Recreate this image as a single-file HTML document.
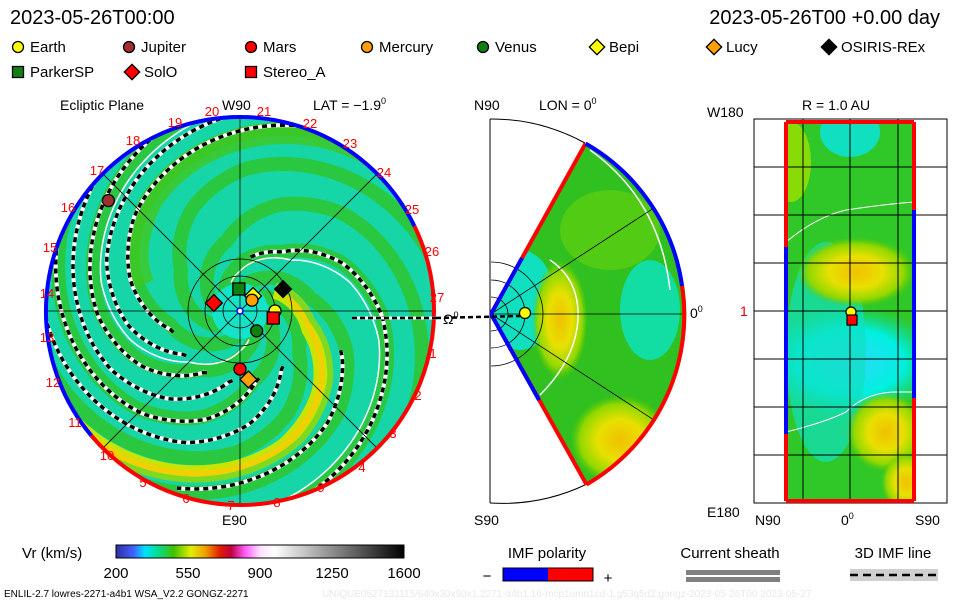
<!DOCTYPE html>
<html><head><meta charset="utf-8"><style>
html,body{margin:0;padding:0;background:#fff;}
svg{display:block;font-family:"Liberation Sans",sans-serif;}
</style></head><body>
<svg id="c" width="960" height="600" viewBox="0 0 960 600" xmlns="http://www.w3.org/2000/svg">
<defs>
 <clipPath id="circ"><circle cx="240" cy="311" r="194"/></clipPath>
 <clipPath id="wedge"><path d="M491,314 L585.5,143.5 A195,195 0 0 1 586.5,484.5 Z"/></clipPath>
 <radialGradient id="blobY" cx="0.5" cy="0.5" r="0.5"><stop offset="0" stop-color="#f0c000"/><stop offset="0.45" stop-color="#e8e000"/><stop offset="0.8" stop-color="#90d800"/><stop offset="1" stop-color="#60c800" stop-opacity="0"/></radialGradient>
 <radialGradient id="blobC" cx="0.5" cy="0.5" r="0.5"><stop offset="0" stop-color="#30d8f8"/><stop offset="0.6" stop-color="#00f0e0"/><stop offset="1" stop-color="#00e0c0" stop-opacity="0"/></radialGradient>
 <linearGradient id="cbar" x1="0" x2="1">
  <stop offset="0" stop-color="#3030a0"/><stop offset="0.06" stop-color="#4060ff"/><stop offset="0.1" stop-color="#00e0ff"/><stop offset="0.14" stop-color="#00e0a0"/><stop offset="0.2" stop-color="#40c000"/><stop offset="0.26" stop-color="#e0f000"/><stop offset="0.31" stop-color="#f0a000"/><stop offset="0.36" stop-color="#e02000"/><stop offset="0.4" stop-color="#c00040"/><stop offset="0.45" stop-color="#ff60ff"/><stop offset="0.5" stop-color="#ffe0ff"/><stop offset="0.55" stop-color="#ffffff"/><stop offset="1" stop-color="#000000"/>
 </linearGradient>
</defs>
<text x="10" y="24" font-size="20">2023-05-26T00:00</text>
<text x="940" y="24" font-size="20" text-anchor="end">2023-05-26T00 +0.00 day</text>
<g id="legend" font-size="15"></g>

<g>
 <text x="60" y="110" font-size="14">Ecliptic Plane</text>
 <text x="222" y="110" font-size="14">W90</text>
 <text x="313" y="110" font-size="14">LAT = −1.9<tspan dy="-6" font-size="9">0</tspan></text>
 <g clip-path="url(#circ)" id="eclipticField"></g>
 <g id="eclipticOver"></g>
 <text x="222" y="525" font-size="14">E90</text>
</g>

<g>
 <text x="474" y="110" font-size="14">N90</text>
 <text x="539" y="110" font-size="14">LON = 0<tspan dy="-6" font-size="9">0</tspan></text>
 <path d="M490,119 L490,503" stroke="#000" stroke-width="1" fill="none"/>
 <path d="M490,119 A195,195 0 0 1 585,143" stroke="#000" fill="none"/>
 <path d="M587,484 A195,195 0 0 1 490,503" stroke="#000" fill="none"/>
 <g clip-path="url(#wedge)">
  <rect x="480" y="120" width="220" height="380" fill="#30c020"/>
  <ellipse cx="610" cy="230" rx="50" ry="40" fill="#60d010" opacity="0.7"/>
  <ellipse cx="650" cy="310" rx="30" ry="50" fill="#10e0b0" opacity="0.9"/>
  <ellipse cx="620" cy="440" rx="50" ry="45" fill="url(#blobY)"/>
  <ellipse cx="520" cy="300" rx="35" ry="50" fill="#10e0c0"/>
  <ellipse cx="560" cy="320" rx="28" ry="60" fill="url(#blobY)"/>
  <path d="M550,260 Q580,280 578,320 Q575,360 540,395" stroke="#fff" stroke-width="1.5" fill="none"/>
  <path d="M590,150 Q660,200 670,290" stroke="#fff" stroke-width="1.5" fill="none"/>
  <path d="M491,314 L700,178 M491,314 L700,450 M491,314 L700,314" stroke="#000" stroke-width="0.8"/>
 </g>
 <g fill="none" stroke="#000" stroke-width="0.8">
  <path d="M491,297 A17,17 0 0 1 491,331"/><path d="M491,280 A34,34 0 0 1 491,348"/><path d="M491,262 A52,52 0 0 1 491,366"/>
 </g>
 <path d="M491,314 L585.5,143.5" stroke="#f00" stroke-width="4"/>
 <path d="M491,314 L522,258" stroke="#00f" stroke-width="4"/>
 <path d="M491,314 L586.5,484.5" stroke="#f00" stroke-width="4"/>
 <path d="M491,314 L539,400" stroke="#00f" stroke-width="4"/>
 <path d="M585.5,143.5 A195,195 0 0 1 682,286" stroke="#00f" stroke-width="4" fill="none"/>
 <path d="M682,286 A195,195 0 0 1 586.5,484.5" stroke="#f00" stroke-width="4" fill="none"/>
 <path d="M436,318 L520,316" stroke="#000" stroke-width="2.5" stroke-dasharray="5,3"/>
 <circle cx="525" cy="313" r="5.5" fill="#ff0" stroke="#000" stroke-width="1.2"/>
 <text x="690" y="318" font-size="14">0<tspan dy="-6" font-size="9">0</tspan></text>
 <text x="474" y="525" font-size="14">S90</text>
</g>

<g>
 <text x="802" y="110" font-size="14">R = 1.0 AU</text>
 <text x="707" y="117" font-size="14">W180</text>
 <text x="707" y="517" font-size="14">E180</text>
 <text x="755" y="525" font-size="14">N90</text>
 <text x="841" y="525" font-size="14">0<tspan dy="-6" font-size="9">0</tspan></text>
 <text x="915" y="525" font-size="14">S90</text>
 <text x="740" y="316" font-size="14" fill="#e00000">1</text>
 <rect x="754" y="119" width="193" height="384" fill="#fff" stroke="#000" stroke-width="1"/>
 <svg x="786" y="122" width="128" height="379" overflow="hidden">
  <rect width="128" height="379" fill="#30c828"/>
  <ellipse cx="64" cy="10" rx="30" ry="25" fill="#10e0c0"/>
  <ellipse cx="5" cy="40" rx="20" ry="40" fill="#a0e000" opacity="0.8"/>
  <ellipse cx="64" cy="240" rx="90" ry="55" fill="url(#blobC)"/>
  <ellipse cx="40" cy="230" rx="40" ry="110" fill="#10e0c0" opacity="0.7"/>
  <ellipse cx="70" cy="150" rx="60" ry="35" fill="url(#blobY)"/>
  <ellipse cx="100" cy="310" rx="40" ry="40" fill="url(#blobY)"/>
  <ellipse cx="120" cy="360" rx="25" ry="30" fill="url(#blobY)"/>
  <path d="M0,120 Q30,95 60,88 Q100,82 128,80" stroke="#fff" stroke-width="1" fill="none"/>
  <path d="M0,310 Q40,300 60,290 Q80,270 110,270 L128,270" stroke="#fff" stroke-width="1" fill="none"/>
 </svg>
 <g id="gridR" stroke="#000" stroke-width="1"></g>
 <path d="M786,122 L914,122 M786,501 L914,501" stroke="#f00" stroke-width="4"/>
 <path d="M786,122 L786,247 M786,434 L786,501 M914,122 L914,210 M914,398 L914,501" stroke="#f00" stroke-width="4"/>
 <path d="M786,247 L786,434 M914,210 L914,398" stroke="#00f" stroke-width="4"/>
 <circle cx="851" cy="312" r="5" fill="#ff0" stroke="#000" stroke-width="1.2"/>
 <rect x="847" y="315" width="10" height="10" fill="#f00" stroke="#000" stroke-width="1.2"/>
</g>

<g>
 <text x="22" y="558" font-size="15">Vr (km/s)</text>
 <rect x="116" y="545" width="288" height="13" fill="url(#cbar)" stroke="#000" stroke-width="1"/>
 <g id="cbTicks" font-size="15" text-anchor="middle"></g>
</g>
<g>
 <text x="547" y="558" font-size="15" text-anchor="middle">IMF polarity</text>
 <rect x="503" y="568" width="45" height="13" fill="#00f"/><rect x="548" y="568" width="45" height="13" fill="#f00"/>
 <rect x="503" y="568" width="90" height="13" fill="none" stroke="#000"/>
 <text x="487" y="581" font-size="15" text-anchor="middle">−</text><text x="608" y="583" font-size="15" text-anchor="middle">+</text>
</g>
<g>
 <text x="730" y="558" font-size="15" text-anchor="middle">Current sheath</text>
 <rect x="686" y="570" width="94" height="5" fill="#808080"/><rect x="686" y="577" width="94" height="5" fill="#808080"/>
</g>
<g>
 <text x="893" y="558" font-size="15" text-anchor="middle">3D IMF line</text>
 <rect x="850" y="569" width="88" height="12" fill="#d0d0d0"/>
 <path d="M850,575 L938,575" stroke="#000" stroke-width="2.5" stroke-dasharray="8,5"/>
</g>
<text x="4" y="597" font-size="10">ENLIL-2.7 lowres-2271-a4b1 WSA_V2.2 GONGZ-2271</text>
<text x="322" y="597" font-size="10" fill="#e8e8e8">UNIQUE0527131115/640x30x90x1.2271-a4b1.16-mcp1umn1cd-1.g53q5d2.gongz-2023-05-26T00   2023-05-27</text>
</svg>
<script>
const NS="http://www.w3.org/2000/svg";
// ---- data ----
const cbTickLabels=["200","550","900","1250","1600"];
const cbTickValues=[200,550,900,1250,1600];
const legendNames=["Earth","Jupiter","Mars","Mercury","Venus","Bepi","Lucy","OSIRIS-REx","ParkerSP","SolO","Stereo_A"];
const legendShapes=["circle","circle","circle","circle","circle","diamond","diamond","diamond","square","diamond","square"];
const legendColors=["#ffff00","#a03030","#ff0000","#ffa000","#108010","#ffff00","#ffa000","#000000","#108010","#ff0000","#ff0000"];
const legendX=[18,129,251,367,483,597,714,829,18,132,251];
const legendRow=[0,0,0,0,0,0,0,0,1,1,1];
const bodyNames=["Jupiter","Earth","Stereo_A","Venus","Mars","Lucy","SolO","ParkerSP","Bepi","Mercury","OSIRIS-REx"];
const bodyR=[5.12,1.0,0.97,0.74,1.66,1.97,0.78,0.63,0.57,0.46,1.38];
const bodyAng=[-140,0,12,50,90,83,-163,-93,-49,-42,-27];
const rimLabels=["19","20","21","22","23","24","25","26","27","1","2","3","4","9","8","7","6","5","10","11","12","13","14","15","16","17","18"];
const rimLabelX=[175,212,264,310,350,384,412,432,437,433,418,393,362,321,277,231,186,143,107,75,53,47,47,50,68,97,133];
const rimLabelY=[127,116,116,128,148,177,214,256,302,358,400,438,472,492,507,510,503,487,460,427,387,342,298,252,212,175,145];
const spiralR=[0,40,72,113,142,164,194,260];
const spiralTh=[-100,-30,15,45,72,100,137,230];
const imfOffsets=[40,62,84,106,128,150,-70,-20];
const imfRMin=[70,70,70,70,70,70,55,80];
const imfRMax=[200,230,240,240,240,240,200,200];
const imfAFrom=[30,40,60,80,85,90,250,20];
const imfATo=[300,300,300,300,300,300,120,110];

// ---- scales ----
const cx=240,cy=311,R=194;
const auPix=35;
function auToPx(au){ return au<=2.1? au*auPix : 2.1*auPix+(au-2.1)*((R-2.1*auPix)/(5.8-2.1)); }
function cbX(v){ return 116+(v-200)/(1600-200)*288; }
function thetaOf(r){for(let i=1;i<spiralR.length;i++){if(r<=spiralR[i]){const t=(r-spiralR[i-1])/(spiralR[i]-spiralR[i-1]);return spiralTh[i-1]+t*(spiralTh[i]-spiralTh[i-1]);}}return spiralTh[spiralTh.length-1];}

function el(tag,attrs,parent){const e=document.createElementNS(NS,tag);for(const k in attrs)e.setAttribute(k,attrs[k]);parent.appendChild(e);return e;}
function marker(shape,x,y,s,color,parent){
 if(shape==="circle") return el("circle",{cx:x,cy:y,r:s,fill:color,stroke:"#000","stroke-width":1.3},parent);
 if(shape==="square") return el("rect",{x:x-s,y:y-s,width:2*s,height:2*s,fill:color,stroke:"#000","stroke-width":1.3},parent);
 return el("path",{d:`M${x},${y-s*1.4} L${x+s*1.4},${y} L${x},${y+s*1.4} L${x-s*1.4},${y} Z`,fill:color,stroke:"#000","stroke-width":1.3},parent);
}
function spiralPath(off,r0,r1,aMin,aMax){
 let d="",pen=false;
 for(let r=r0;r<=r1;r+=2){const deg=thetaOf(r)+off;
  const nd=((deg%360)+360)%360;
  const ok=(aMin===undefined)||(aMin<=aMax?(nd>=aMin&&nd<=aMax):(nd>=aMin||nd<=aMax));
  if(!ok){pen=false;continue;}
  const th=deg*Math.PI/180;
  d+=(pen?"L":"M")+(cx+r*Math.cos(th)).toFixed(1)+","+(cy+r*Math.sin(th)).toFixed(1);pen=true;}
 return d;
}

const lg=document.getElementById("legend");
legendNames.forEach((n,i)=>{
 const y=legendRow[i]?72:47;
 const g=el("g",{},lg);
 
 
 marker(legendShapes[i],legendX[i],y,5.5,legendColors[i],g);
 const t=el("text",{x:legendX[i]+12,y:y+5},g); t.textContent=n;
});

const cbt=document.getElementById("cbTicks");
cbTickValues.forEach((v,i)=>{
 const t=el("text",{x:cbX(v),y:578},cbt);
 
 
 t.textContent=cbTickLabels[i];
});

const fld=document.getElementById("eclipticField");
el("rect",{x:40,y:110,width:400,height:400,fill:"#16d6a8"},fld);
for(let o=0;o<360;o+=45){
 el("path",{d:spiralPath(o+20,0,300),stroke:"#2ec42e","stroke-width":14,fill:"none",opacity:0.85},fld);
}
el("path",{d:spiralPath(160,100,300),stroke:"#40c820","stroke-width":22,fill:"none",opacity:0.8},fld);
el("path",{d:spiralPath(0,40,300),stroke:"#c8e400","stroke-width":16,fill:"none"},fld);
el("path",{d:spiralPath(0,50,210),stroke:"#f0d000","stroke-width":6,fill:"none"},fld);
el("path",{d:spiralPath(-8,50,250),stroke:"#80d820","stroke-width":6,fill:"none"},fld);
el("circle",{cx:cx,cy:cy,r:28,fill:"#10e8e0",opacity:0.85},fld);
el("path",{d:spiralPath(-60,30,320),stroke:"#fff","stroke-width":1.5,fill:"none"},fld);
el("path",{d:spiralPath(120,30,320),stroke:"#fff","stroke-width":1.5,fill:"none"},fld);
imfOffsets.forEach((o,i)=>{
 const d=spiralPath(o,imfRMin[i],imfRMax[i],imfAFrom[i],imfATo[i]);
 if(!d)return;
 el("path",{d:d,stroke:"#fff","stroke-width":4,fill:"none"},fld);
 const p2=el("path",{d:d,stroke:"#000","stroke-width":3.5,"stroke-dasharray":"5,4",fill:"none"},fld);
 
 
});
[0,45,90,135].forEach(a=>{const r=a*Math.PI/180;el("path",{d:`M${cx-R*Math.cos(r)},${cy-R*Math.sin(r)} L${cx+R*Math.cos(r)},${cy+R*Math.sin(r)}`,stroke:"#000","stroke-width":0.8},fld);});
[17,35,52].forEach(r=>el("circle",{cx:cx,cy:cy,r:r,fill:"none",stroke:"#000","stroke-width":0.8},fld));

const ov=document.getElementById("eclipticOver");
function arc(a0,a1,col){const p0=[cx+R*Math.cos(a0*Math.PI/180),cy+R*Math.sin(a0*Math.PI/180)],p1=[cx+R*Math.cos(a1*Math.PI/180),cy+R*Math.sin(a1*Math.PI/180)];
 const large=(a1-a0)>180?1:0;el("path",{d:`M${p0} A${R},${R} 0 ${large} 1 ${p1}`,stroke:col,"stroke-width":4,fill:"none"},ov);}
arc(-26,140,"#ff0000");arc(140,334,"#0000ff");
rimLabels.forEach((s,i)=>{const t=el("text",{x:rimLabelX[i],y:rimLabelY[i],"font-size":13,fill:"#ff0000","text-anchor":"middle"},ov);
 
 
 t.textContent=s;});
el("text",{x:443,y:324,"font-size":14},ov).innerHTML='Ω<tspan dy="-6" font-size="9">0</tspan>';
el("path",{d:"M352,318 L436,318",stroke:"#fff","stroke-width":3,fill:"none"},ov);
el("path",{d:"M352,318 L436,318",stroke:"#000","stroke-width":2.5,"stroke-dasharray":"5,3",fill:"none"},ov);
el("circle",{cx:cx,cy:cy,r:3,fill:"#fff",stroke:"#00f","stroke-width":1.5},ov);
bodyNames.forEach((n,i)=>{
 const li=legendNames.indexOf(n);
 const r=auToPx(bodyR[i]),a=bodyAng[i]*Math.PI/180;
 const m=marker(legendShapes[li],cx+r*Math.cos(a),cy+r*Math.sin(a),6,legendColors[li],ov);
 
 
});

const gr=document.getElementById("gridR");
[803,850,898].forEach(x=>el("path",{d:`M${x},119 L${x},503`},gr));
[167,215,263,311,359,407,455].forEach(y=>el("path",{d:`M754,${y} L947,${y}`},gr));
</script>
</body></html>
